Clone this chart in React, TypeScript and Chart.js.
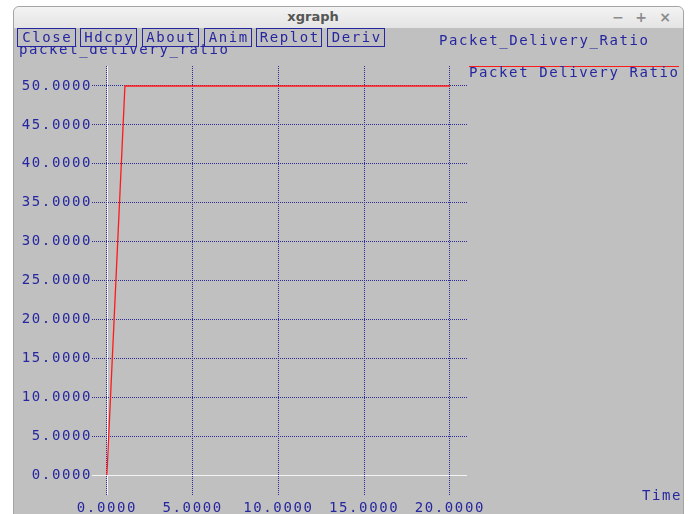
import React, { useEffect, useRef } from 'react';
import { Chart, registerables } from 'chart.js';

Chart.register(...registerables);

// ---- data ----
const times = [0, 1.05, 20];
const ratios = [0, 50, 50];
const xTicks = [0, 5, 10, 15, 20];
const yTicks = [0, 5, 10, 15, 20, 25, 30, 35, 40, 45, 50];
const seriesLabel = 'Packet Delivery Ratio';
const chartTitle = 'Packet_Delivery_Ratio';
const yAxisTitle = 'packet_delivery_ratio';
const xAxisTitle = 'Time';
const buttonLabels = ['Close', 'Hdcpy', 'About', 'Anim', 'Replot', 'Deriv'];

// ---- style / layout ----
const NAVY = '#2626a0';
const GRID = '#2c2c94';
const MONO = '"DejaVu Sans Mono", "Liberation Mono", monospace';
const FS = 14;
const LS = 1.6;
const buttonLefts = [17, 80, 142, 204, 256, 327];
const buttonWidths = [59, 57, 57, 48, 66, 58];

const monoText: React.CSSProperties = {
  position: 'absolute',
  fontFamily: MONO,
  fontSize: FS,
  lineHeight: '13px',
  letterSpacing: LS + 'px',
  color: NAVY,
  whiteSpace: 'nowrap',
};

export default function App() {
  const ref = useRef<HTMLCanvasElement | null>(null);

  useEffect(() => {
    if (!ref.current) return;
    const spacing = {
      id: 'spacing',
      beforeUpdate(chart: any) {
        chart.ctx.letterSpacing = LS + 'px';
      },
      beforeDraw(chart: any) {
        chart.ctx.letterSpacing = LS + 'px';
      },
    };
    const zeroLines = {
      id: 'zeroLines',
      beforeDatasetsDraw(chart: any) {
        const { ctx, chartArea, scales } = chart;
        const x0 = Math.round(scales.x.getPixelForValue(0)) + 0.5;
        const y0 = Math.round(scales.y.getPixelForValue(0)) + 0.5;
        ctx.save();
        ctx.strokeStyle = '#f4f4f4';
        ctx.lineWidth = 1;
        ctx.beginPath();
        ctx.moveTo(x0, chartArea.top);
        ctx.lineTo(x0, chartArea.bottom);
        ctx.moveTo(chartArea.left, y0);
        ctx.lineTo(chartArea.right, y0);
        ctx.stroke();
        ctx.restore();
      },
    };
    const chart = new Chart(ref.current, {
      type: 'line',
      data: {
        datasets: [
          {
            label: seriesLabel,
            data: times.map((t, i) => ({ x: t, y: ratios[i] })),
            borderColor: '#ff1a1a',
            borderWidth: 1.3,
            pointRadius: 0,
            tension: 0,
            fill: false,
          },
        ],
      },
      options: {
        animation: false,
        responsive: false,
        events: [],
        layout: { padding: { left: 0, top: 66, right: 223, bottom: 0 } },
        plugins: { legend: { display: false }, tooltip: { enabled: false }, title: { display: false } },
        scales: {
          x: {
            type: 'linear',
            min: -0.87,
            max: 21.0,
            afterBuildTicks: (s: any) => {
              s.ticks = xTicks.map((v) => ({ value: v }));
            },
            afterFit: (s: any) => {
              s.height = 19;
            },
            grid: { color: GRID, lineWidth: 1, drawTicks: false },
            border: { display: false, dash: [1, 1] },
            ticks: {
              padding: 5,
              color: NAVY,
              font: { family: MONO, size: FS },
              maxRotation: 0,
              autoSkip: false,
              callback: (v: any) => Number(v).toFixed(4),
            },
          },
          y: {
            type: 'linear',
            min: -2.57,
            max: 52.57,
            afterBuildTicks: (s: any) => {
              s.ticks = yTicks.map((v) => ({ value: v }));
            },
            afterFit: (s: any) => {
              s.width = 92;
            },
            grid: { color: GRID, lineWidth: 1, drawTicks: false },
            border: { display: false, dash: [1, 1] },
            ticks: {
              padding: 0,
              color: NAVY,
              font: { family: MONO, size: FS },
              autoSkip: false,
              callback: (v: any) => Number(v).toFixed(4),
            },
          },
        },
      },
      plugins: [spacing, zeroLines],
    } as any);
    return () => chart.destroy();
  }, []);

  return (
    <div style={{ position: 'fixed', left: 0, top: 0, width: 690, height: 514, background: '#ffffff', overflow: 'hidden' }}>
      {/* window */}
      <div
        style={{
          position: 'absolute',
          left: 13,
          top: 6,
          width: 669,
          height: 520,
          border: '1px solid #a4a4a4',
          borderRadius: '6px 6px 0 0',
          background: '#c0c0c0',
          overflow: 'hidden',
        }}
      >
        <div
          style={{
            position: 'absolute',
            left: 0,
            top: 0,
            width: 669,
            height: 21,
            background: 'linear-gradient(#f3f3f3, #e4e4e4)',
          }}
        />
      </div>
      <div
        style={{
          position: 'absolute',
          left: 263,
          top: 9,
          width: 100,
          textAlign: 'center',
          fontFamily: '"DejaVu Sans", sans-serif',
          fontWeight: 'bold',
          fontSize: 13,
          lineHeight: '16px',
          color: '#555555',
        }}
      >
        xgraph
      </div>
      {['\u2212', '+', '\u00d7'].map((c, i) => (
        <div
          key={c}
          style={{
            position: 'absolute',
            left: [612, 635, 659][i],
            top: 8,
            width: 12,
            textAlign: 'center',
            fontFamily: '"DejaVu Sans", sans-serif',
            fontWeight: 'bold',
            fontSize: 14,
            lineHeight: '18px',
            color: '#8c8c8c',
          }}
        >
          {c}
        </div>
      ))}
      <canvas ref={ref} width={690} height={514} style={{ position: 'absolute', left: 0, top: 0, display: 'block' }} />
      <div style={{ ...monoText, left: 19, top: 43 }}>{yAxisTitle}</div>
      {buttonLabels.map((b, i) => (
        <div
          key={b}
          style={{
            ...monoText,
            left: buttonLefts[i],
            top: 28,
            width: buttonWidths[i],
            height: 19,
            boxSizing: 'border-box',
            border: '1px solid ' + NAVY,
            background: '#c0c0c0',
            textAlign: 'center',
            lineHeight: '17px',
            paddingLeft: LS,
          }}
        >
          {b}
        </div>
      ))}
      <div style={{ ...monoText, left: 439, top: 34 }}>{chartTitle}</div>
      <div style={{ position: 'absolute', left: 469, top: 66, width: 210, height: 1, background: '#ff1a1a' }} />
      <div style={{ ...monoText, left: 469, top: 66 }}>{seriesLabel}</div>
      <div style={{ ...monoText, left: 642, top: 489 }}>{xAxisTitle}</div>
    </div>
  );
}
